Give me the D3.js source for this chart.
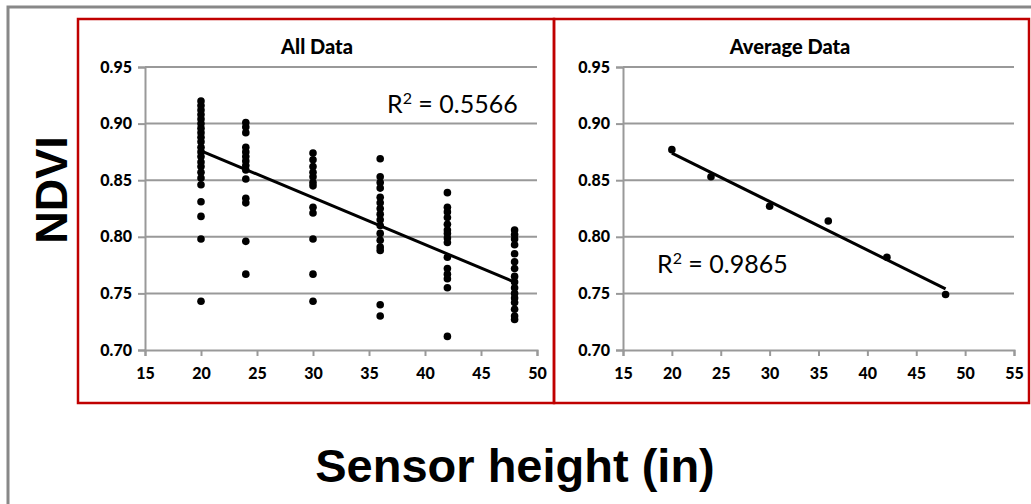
<!DOCTYPE html>
<html lang="en">
<head>
<meta charset="UTF-8">
<title>NDVI vs Sensor height</title>
<script src="https://d3js.org/d3.v7.min.js"></script>
<style>
  body { margin: 0; background: #fff; }
  .tick text { font-family: Lato, "Open Sans", sans-serif; font-weight: 900; font-size: 16px; fill: #000; }
  circle { fill: #000; }
</style>
</head>
<body>
<svg width="1031" height="504"></svg>
<script>
// sensor heights (inches) and NDVI readings
var heights = [20, 24, 30, 36, 42, 48];
var ndvi20 = [0.920, 0.916, 0.912, 0.908, 0.904, 0.900, 0.896, 0.892, 0.888, 0.884, 0.879, 0.875, 0.871, 0.866, 0.862, 0.857, 0.852, 0.846, 0.831, 0.818, 0.798, 0.743];
var ndvi24 = [0.901, 0.897, 0.892, 0.879, 0.875, 0.871, 0.867, 0.863, 0.859, 0.851, 0.834, 0.830, 0.796, 0.767];
var ndvi30 = [0.874, 0.868, 0.862, 0.857, 0.853, 0.848, 0.845, 0.826, 0.821, 0.798, 0.767, 0.743];
var ndvi36 = [0.869, 0.853, 0.848, 0.843, 0.835, 0.830, 0.825, 0.820, 0.815, 0.810, 0.803, 0.797, 0.791, 0.788, 0.740, 0.730];
var ndvi42 = [0.839, 0.826, 0.822, 0.817, 0.811, 0.806, 0.803, 0.799, 0.795, 0.782, 0.772, 0.767, 0.763, 0.755, 0.712];
var ndvi48 = [0.806, 0.802, 0.798, 0.793, 0.785, 0.778, 0.772, 0.765, 0.760, 0.755, 0.750, 0.746, 0.742, 0.736, 0.730, 0.727];
var ndviAvg = [0.877, 0.853, 0.827, 0.814, 0.782, 0.749];

// linear trend lines as drawn (start/end values at 20 and 48 in)
var trendAll = [0.876, 0.760];
var trendAvg = [0.874, 0.754];

var yTicks = [0.70, 0.75, 0.80, 0.85, 0.90, 0.95];
var xTicksAll = [15, 20, 25, 30, 35, 40, 45, 50];
var xTicksAvg = [15, 20, 25, 30, 35, 40, 45, 50, 55];

var svg = d3.select("svg");
svg.append("rect").attr("width", 1031).attr("height", 504).attr("fill", "#fff");

// outer gray frame
svg.append("path").attr("d", "M8,520 V7 H1040").attr("fill", "none").attr("stroke", "#888").attr("stroke-width", 3);

var allPts = [];
[ndvi20, ndvi24, ndvi30, ndvi36, ndvi42, ndvi48].forEach(function (arr, i) {
    arr.forEach(function (v) { allPts.push([heights[i], v]); });
});
var avgPts = heights.map(function (h, i) { return [h, ndviAvg[i]]; });

function panel(opt) {
    var g = svg.append("g");
    var x = d3.scaleLinear([opt.xTicks[0], opt.xTicks[opt.xTicks.length - 1]], [opt.x0, opt.x1]);
    var y = d3.scaleLinear([0.70, 0.95], [350, 67]);

    // gridlines
    g.append("g").selectAll("line").data(yTicks.slice(1)).enter().append("line")
        .attr("x1", opt.x0).attr("x2", opt.x1)
        .attr("y1", function (d) { return y(d); }).attr("y2", function (d) { return y(d); })
        .attr("stroke", "#999").attr("stroke-width", 2);

    var ya = g.append("g").attr("transform", "translate(" + opt.x0 + ",0)")
        .call(d3.axisLeft(y).tickValues(yTicks).tickFormat(d3.format(".2f")).tickSize(7).tickPadding(6));
    var xa = g.append("g").attr("transform", "translate(0,350)")
        .call(d3.axisBottom(x).tickValues(opt.xTicks).tickSize(6).tickPadding(12));
    [ya, xa].forEach(function (a) {
        a.select(".domain").attr("stroke", "#999").attr("stroke-width", 2);
        a.selectAll(".tick line").attr("stroke", "#999").attr("stroke-width", 2);
    });

    g.selectAll("circle").data(opt.pts).enter().append("circle")
        .attr("cx", function (d) { return x(d[0]); })
        .attr("cy", function (d) { return y(d[1]); })
        .attr("r", 3.8);

    g.append("line")
        .attr("x1", x(heights[0])).attr("y1", y(opt.trend[0]))
        .attr("x2", x(heights[heights.length - 1])).attr("y2", y(opt.trend[1]))
        .attr("stroke", "#000").attr("stroke-width", 3);

    g.append("text").attr("x", opt.titleX).attr("y", 54).attr("text-anchor", "middle")
        .attr("font-family", "Lato, sans-serif").attr("font-weight", 900).attr("font-size", 20)
        .text(opt.title);

    var r = g.append("text").attr("x", opt.rx).attr("y", opt.ry)
        .attr("font-family", "Lato, sans-serif").attr("font-size", 25);
    r.append("tspan").text("R");
    r.append("tspan").attr("font-size", 16).attr("dy", -9).text("2");
    r.append("tspan").attr("dy", 9).text(" = " + opt.r2);

    // red panel border
    svg.append("rect").attr("x", opt.bx).attr("y", 19).attr("width", opt.bw).attr("height", 384)
        .attr("fill", "none").attr("stroke", "#c00000").attr("stroke-width", 2.5);
}

panel({ xTicks: xTicksAll, x0: 145, x1: 537, pts: allPts, trend: trendAll, title: "All Data", titleX: 317,
        rx: 387, ry: 113, r2: "0.5566", bx: 78, bw: 476 });
panel({ xTicks: xTicksAvg, x0: 623, x1: 1014, pts: avgPts, trend: trendAvg, title: "Average Data", titleX: 790,
        rx: 657, ry: 273, r2: "0.9865", bx: 554, bw: 475 });

svg.append("text").attr("transform", "translate(67,190) rotate(-90)").attr("text-anchor", "middle")
    .attr("font-family", "Liberation Sans, Arial, sans-serif").attr("font-weight", "bold").attr("font-size", 45)
    .text("NDVI");
svg.append("text").attr("x", 515).attr("y", 482).attr("text-anchor", "middle")
    .attr("font-family", "Liberation Sans, Arial, sans-serif").attr("font-weight", "bold").attr("font-size", 47)
    .text("Sensor height (in)");
</script>
</body>
</html>
